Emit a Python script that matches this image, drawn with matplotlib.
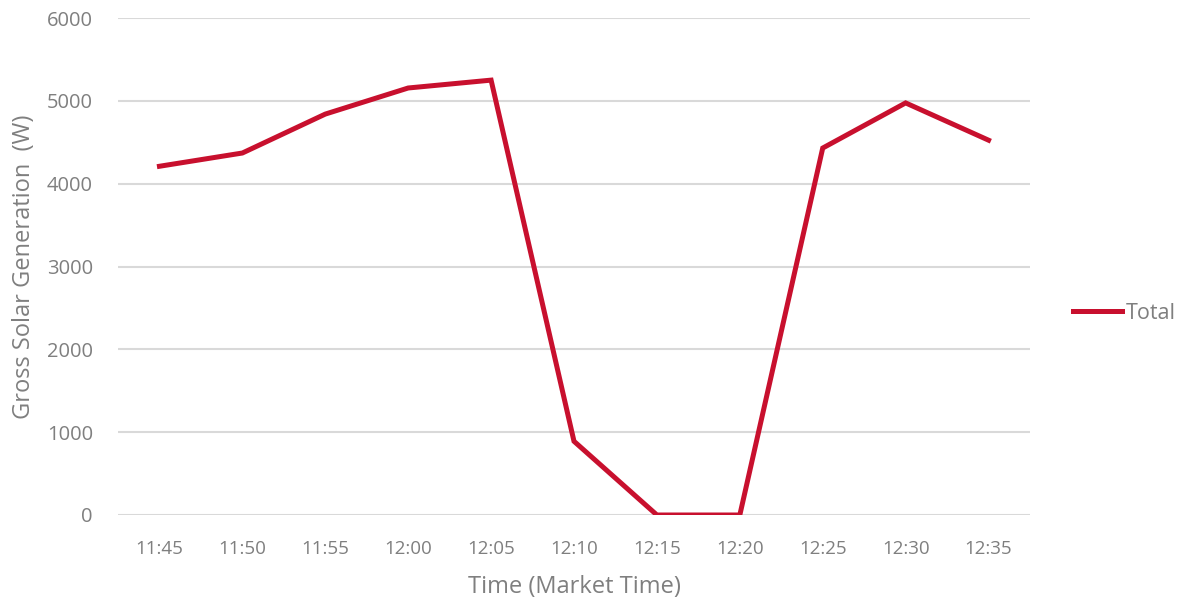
import matplotlib
matplotlib.use('Agg')
import matplotlib.pyplot as plt

times = ['11:45', '11:50', '11:55', '12:00', '12:05', '12:10',
         '12:15', '12:20', '12:25', '12:30', '12:35']
total = [4210, 4370, 4840, 5155, 5250, 890, 0, 0, 4430, 4975, 4525]

grey = '#7f7f7f'
red = '#c8102e'
plt.rcParams['font.family'] = ['Open Sans', 'DejaVu Sans']

fig = plt.figure(figsize=(11.83, 6.04), dpi=100)
ax = fig.add_axes([118 / 1183, 1 - 515 / 604, 912 / 1183, 497 / 604])

x = range(len(times))
ax.plot(x, total, color=red, linewidth=3.6, solid_joinstyle='miter', label='Total')

ax.set_xlim(-0.5, len(times) - 0.5)
ax.set_ylim(0, 6000)
ax.set_yticks(range(0, 6001, 1000))
ax.set_xticks(list(x))
ax.set_xticklabels(times)
ax.yaxis.grid(True, color='#d9d9d9', linewidth=1.5)
ax.set_axisbelow(True)
for s in ax.spines.values():
    s.set_visible(False)
ax.tick_params(length=0, colors=grey)
ax.tick_params(axis='y', pad=18, labelsize=14.5)
ax.tick_params(axis='x', pad=18, labelsize=13.5)

ax.set_xlabel('Time (Market Time)', color=grey, fontsize=17, labelpad=12)
ax.set_ylabel('Gross Solar Generation  (W)', color=grey, fontsize=17, labelpad=8)

leg = ax.legend(loc='center left', bbox_to_anchor=(1.047, 0.406), frameon=False,
                fontsize=15.5, handlelength=2.3, handletextpad=0.15,
                borderaxespad=0, borderpad=0)
for t in leg.get_texts():
    t.set_color(grey)

fig.savefig('out.png', dpi=100)
